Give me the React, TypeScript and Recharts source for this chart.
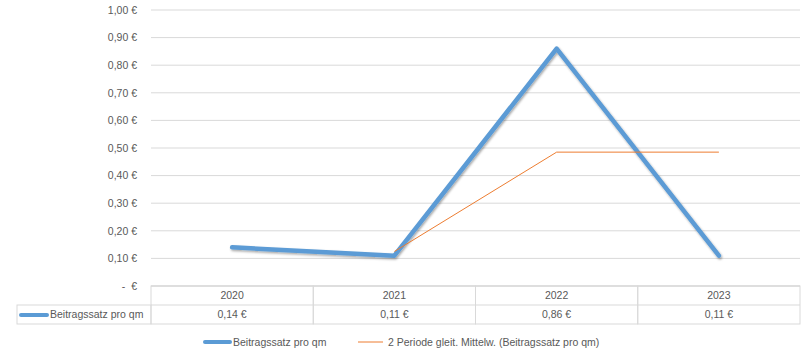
import { LineChart, Line, XAxis, YAxis, CartesianGrid, Legend } from 'recharts';

const years = ['2020', '2021', '2022', '2023'];
const beitrag = [0.14, 0.11, 0.86, 0.11];
const gleitMittel = [null, 0.125, 0.485, 0.485];
const yTicks = [0, 0.1, 0.2, 0.3, 0.4, 0.5, 0.6, 0.7, 0.8, 0.9, 1.0];

const data = years.map((y, i) => ({ year: y, beitrag: beitrag[i], mittel: gleitMittel[i] }));

const W = 811;
const H = 353;
const LEFT = 151;
const RIGHT = 11;
const PLOT_W = W - LEFT - RIGHT;
const COL_W = PLOT_W / years.length;
const ROW_H = 19;
const FONT = '"Liberation Sans", Arial, sans-serif';
const TEXT = '#595959';
const GRID = '#d9d9d9';
const BLUE = '#5b9bd5';
const ORANGE = '#ed7d31';

const euro = (v: number) => v === 0 ? '-\u00a0\u00a0€' : v.toFixed(2).replace('.', ',') + ' €';

function TableTick(props: any) {
  const { x, y, index, payload } = props;
  const left = x - COL_W / 2;
  return (
    <g>
      <rect x={left} y={y} width={COL_W} height={ROW_H * 2} fill="none" stroke={GRID} />
      <line x1={left} x2={left + COL_W} y1={y + ROW_H} y2={y + ROW_H} stroke={GRID} />
      <text x={x} y={y + 13} textAnchor="middle" fontSize={10.5} fill={TEXT} fontFamily={FONT}>{payload.value}</text>
      <text x={x} y={y + ROW_H + 13} textAnchor="middle" fontSize={10.5} fill={TEXT} fontFamily={FONT}>{euro(beitrag[index])}</text>
      {index === 0 && (
        <g>
          <rect x={17} y={y + ROW_H} width={left - 17} height={ROW_H} fill="none" stroke={GRID} />
          <line x1={21} x2={47} y1={y + ROW_H + 10} y2={y + ROW_H + 10} stroke={BLUE} strokeWidth={4} strokeLinecap="round" />
          <text x={50} y={y + ROW_H + 13} fontSize={10.5} fill={TEXT} fontFamily={FONT}>Beitragssatz pro qm</text>
        </g>
      )}
    </g>
  );
}

function LegendContent() {
  return (
    <div style={{ height: 27, position: 'relative', fontFamily: FONT, fontSize: 10.5, color: TEXT }}>
      <svg width={W} height={27} style={{ position: 'absolute', left: 0, top: 0 }}>
        <line x1={205} x2={230} y1={16} y2={16} stroke={BLUE} strokeWidth={4} strokeLinecap="round" />
        <text x={233} y={20} fontSize={10.5} fill={TEXT} fontFamily={FONT}>Beitragssatz pro qm</text>
        <line x1={358} x2={383} y1={16} y2={16} stroke={ORANGE} strokeWidth={1} />
        <text x={388} y={20} fontSize={10.5} fill={TEXT} fontFamily={FONT}>2 Periode gleit. Mittelw. (Beitragssatz pro qm)</text>
      </svg>
    </div>
  );
}

export default function App() {
  return (
    <div style={{ position: 'absolute', left: 0, top: 0, background: '#fff' }}>
      <LineChart width={W} height={H} data={data} margin={{ top: 10, right: RIGHT, left: 0, bottom: 0 }}>
        <defs>
          <filter id="shadow" x="-10%" y="-10%" width="120%" height="120%">
            <feDropShadow dx="1" dy="1.5" stdDeviation="1.2" floodColor="#000" floodOpacity="0.35" />
          </filter>
        </defs>
        <CartesianGrid vertical={false} stroke={GRID} />
        <XAxis
          dataKey="year"
          height={40}
          padding={{ left: COL_W / 2, right: COL_W / 2 }}
          axisLine={{ stroke: GRID }}
          tickLine={false}
          tickSize={0}
          tickMargin={0}
          tick={<TableTick />}
          interval={0}
        />
        <YAxis
          width={LEFT}
          domain={[0, 1]}
          ticks={yTicks}
          tickFormatter={euro}
          axisLine={false}
          tickLine={false}
          tickMargin={8}
          tick={{ fill: TEXT, fontSize: 10.5, fontFamily: FONT }}
        />
        <Legend verticalAlign="bottom" content={<LegendContent />} />
        <Line
          dataKey="beitrag"
          stroke={BLUE}
          strokeWidth={4.5}
          strokeLinejoin="round"
          strokeLinecap="round"
          dot={false}
          filter="url(#shadow)"
          isAnimationActive={false}
        />
        <Line
          dataKey="mittel"
          stroke={ORANGE}
          strokeWidth={1}
          dot={false}
          isAnimationActive={false}
        />
      </LineChart>
    </div>
  );
}
